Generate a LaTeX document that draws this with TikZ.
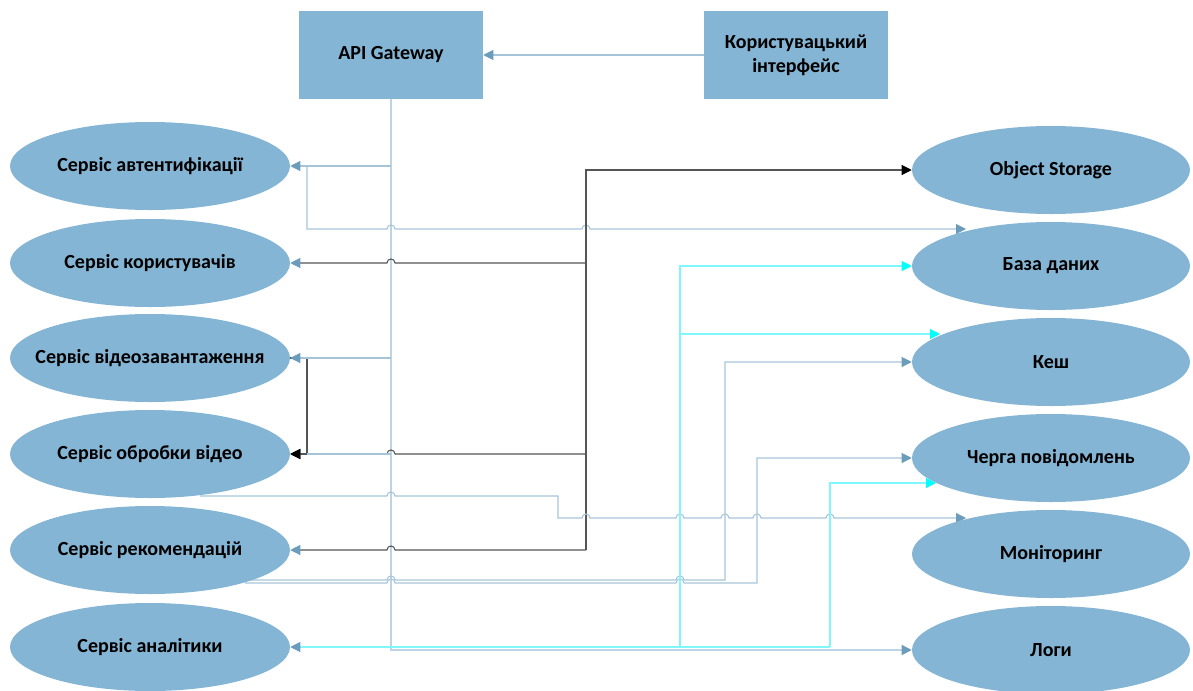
\documentclass[tikz,border=0pt]{standalone}
\usepackage{fontspec}
\setmainfont{Carlito}
\usetikzlibrary{arrows.meta,shapes.geometric}

\definecolor{nodefill}{HTML}{85B5D4}
\definecolor{linelight}{HTML}{A6C4D8}
\definecolor{trunkcol}{HTML}{BCD4E5}
\definecolor{tipblue}{HTML}{6B9CBC}
\definecolor{linedark}{HTML}{555555}
\definecolor{linecyan}{HTML}{7FF7FF}
\definecolor{tipcyan}{HTML}{00FFFF}

% keep the ellipse size fixed whatever the label width
\newcommand{\fixedlabel}[1]{\makebox[0pt][c]{#1}}

\pgfdeclarelayer{wires}
\pgfsetlayers{wires,main}

\begin{document}
\begin{tikzpicture}[x=0.75pt,y=-0.75pt,
  txt/.style={font=\bfseries\fontsize{15}{18}\selectfont, text=black},
  box/.style={txt, rectangle, fill=nodefill, minimum width=138pt, minimum height=66pt, inner sep=0pt, align=center},
  svc/.style={txt, ellipse, fill=nodefill, minimum width=210pt, minimum height=66pt, inner sep=0pt},
  store/.style={svc, minimum width=208.5pt},
  lt/.style={draw=linelight, line width=0.8pt},
  trunk/.style={draw=trunkcol, line width=1pt},
  dk/.style={draw=linedark, line width=0.8pt},
  cy/.style={draw=linecyan, line width=0.8pt},
  tipL/.style={-{Triangle[length=7.5pt,width=7.5pt,color=tipblue]}},
  tipD/.style={-{Triangle[length=7.5pt,width=7.5pt,color=black]}},
  tipC/.style={-{Triangle[length=7.5pt,width=7.5pt,color=tipcyan]}},
  % small semicircular line jumps over a crossing vertical line
  hopr/.style args={#1/#2}{insert path={-- (#1-4,#2) .. controls (#1-4,#2-5.3) and (#1+4,#2-5.3) .. (#1+4,#2)}},
  hopl/.style args={#1/#2}{insert path={-- (#1+4,#2) .. controls (#1+4,#2-5.3) and (#1-4,#2-5.3) .. (#1-4,#2)}},
]
\useasboundingbox (0,0) rectangle (1193,690);

% top boxes
\node[box] (api) at (391,55) {API Gateway};
\node[box] (ui) at (796,55) {Користувацький\\інтерфейс};

% services
\node[svc] (auth)   at (150,166) {\fixedlabel{Сервіс автентифікації}};
\node[svc] (users)  at (150,263) {\fixedlabel{Сервіс користувачів}};
\node[svc] (upload) at (150,358) {\fixedlabel{Сервіс відеозавантаження}};
\node[svc] (proc)   at (150,454) {\fixedlabel{Сервіс обробки відео}};
\node[svc] (recs)   at (150,550) {\fixedlabel{Сервіс рекомендацій}};
\node[svc] (anal)   at (150,647) {\fixedlabel{Сервіс аналітики}};

% storage and infrastructure
\node[store] (objst) at (1051,170) {\fixedlabel{Object Storage}};
\node[store] (db)    at (1051,266) {\fixedlabel{База даних}};
\node[store] (cache) at (1051,362) {\fixedlabel{Кеш}};
\node[store] (queue) at (1051,458) {\fixedlabel{Черга повідомлень}};
\node[store] (mon)   at (1051,554) {\fixedlabel{Моніторинг}};
\node[store] (logs)  at (1051,650) {\fixedlabel{Логи}};

% junctions and entry points
\coordinate (gw-bend)  at (391,650);
\coordinate (gw-auth)  at (391,166);
\coordinate (gw-upl)   at (391,358);
\coordinate (gw-proc)  at (391,454);
\coordinate (auth-tap) at (307,166);
\coordinate (upl-tap)  at (307,358);
\coordinate (proc-tap) at (307,454);
\coordinate (dk-top)   at (586,170);
\coordinate (dk-users) at (586,263);
\coordinate (dk-proc)  at (586,454);
\coordinate (dk-bot)   at (586,550);
\coordinate (proc-out) at (200,496);
\coordinate (recs-out1) at (245,580);
\coordinate (recs-out2) at (245,583);
\coordinate (db-top)   at (966,229);
\coordinate (mon-top)  at (966,518);
\coordinate (cache-top) at (940,334);
\coordinate (queue-low) at (936,483);
\coordinate (cy-a) at (680,647);
\coordinate (cy-b) at (830,647);
\coordinate (cy-c) at (680,334);

\begin{pgfonlayer}{wires}
  \draw[lt,tipL] (ui.west) -- (api.east);
  \draw[trunk,tipL] (api.south) -- (gw-bend) -- (logs.west);
  \draw[lt,tipL] (gw-auth) -- (auth.east);
  \draw[lt,tipL] (auth-tap) -- (auth-tap |- db-top) [hopr=391/229] [hopr=586/229] -- (db-top);

  % dark links
  \draw[dk,tipD] (dk-bot) -- (dk-top) -- (objst.west);
  \draw[dk,tipL] (dk-users) [hopl=391/263] -- (users.east);
  \draw[dk,tipD] (dk-proc) [hopl=391/454] -- (proc.east);
  \draw[dk,tipL] (dk-bot) [hopl=391/550] -- (recs.east);
  \draw[dk,tipD] (upload.east) -- (upl-tap) -- (proc-tap) -- (proc.east);

  \draw[lt,tipL] (gw-upl) -- (upload.east);
  \draw[lt] (gw-proc) -- (proc-tap);

  % links to the infrastructure
  \draw[lt,tipL] (proc-out) [hopr=391/496] -- (558,496) -- (558,518)
     [hopr=586/518] [hopr=680/518] [hopr=725/518] [hopr=757/518] [hopr=830/518] -- (mon-top);
  \draw[lt,tipL] (recs-out1) [hopr=391/580] [hopr=680/580] -- (725,580) -- (725,362) -- (cache.west);
  \draw[lt,tipL] (recs-out2) [hopr=391/583] [hopr=680/583] -- (757,583) -- (757,458) -- (queue.west);

  % cyan links
  \draw[cy,tipL] (cy-b) -- (anal.east);
  \draw[cy,tipC] (cy-a) -- (cy-a |- db.west) -- (db.west);
  \draw[cy,tipC] (cy-c) -- (cache-top);
  \draw[cy,tipC] (cy-b) -- (cy-b |- queue-low) -- (queue-low);
\end{pgfonlayer}
\end{tikzpicture}
\end{document}
